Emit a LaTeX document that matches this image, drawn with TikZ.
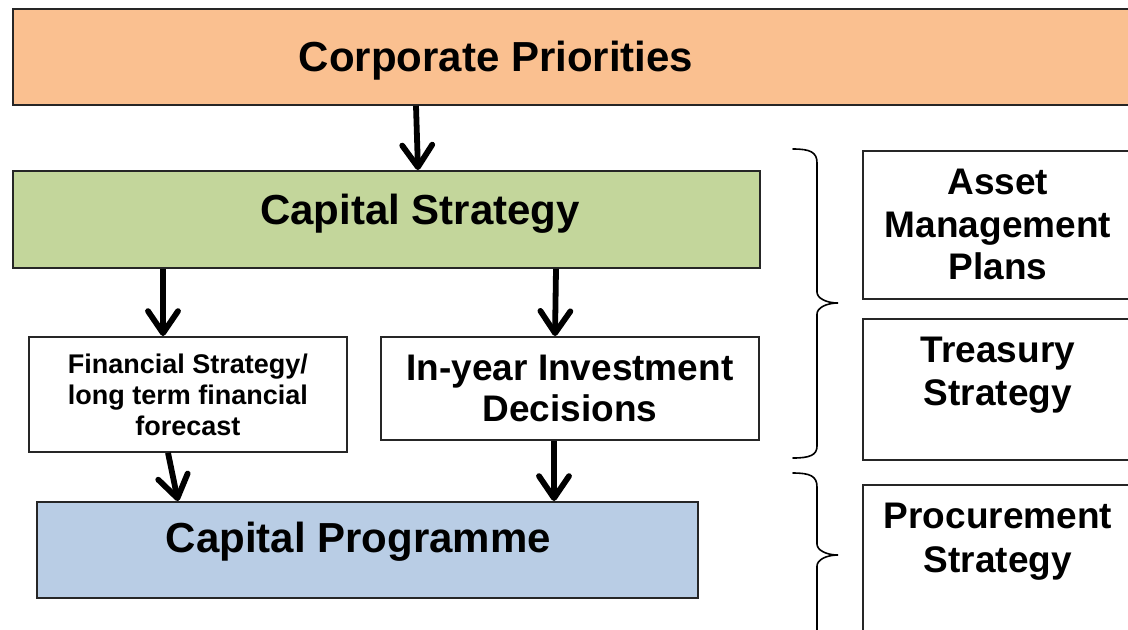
\documentclass[tikz,border=0pt]{standalone}
\usepackage{fontspec}
\setmainfont{Liberation Sans}
\usetikzlibrary{arrows.meta}
\definecolor{corporange}{HTML}{FAC090}
\definecolor{capgreen}{HTML}{C3D69B}
\definecolor{progblue}{HTML}{B9CDE5}

\begin{document}
\begin{tikzpicture}[x=0.5pt, y=-0.5pt,
    box/.style={draw=black!85, line width=0.9pt, anchor=north west, inner sep=0pt, align=center},
    arr/.style={line width=2.9pt, -{Straight Barb[length=11pt, width=15pt, line cap=round, line join=round]}},
    curly/.style={line width=0.8pt, line cap=round}]

      \useasboundingbox (0,0) rectangle (1128,629);
      \clip (0,0) rectangle (1128,629);

      \node[box, fill=corporange, minimum width=564pt, minimum height=48pt,
        label={[font=\fontsize{21pt}{24pt}\selectfont\bfseries, xshift=-40.5pt, yshift=-2pt]center:Corporate Priorities}] (corp) at (12,8) {};
      \node[box, fill=capgreen, minimum width=373.5pt, minimum height=48.5pt,
        label={[font=\fontsize{21pt}{24pt}\selectfont\bfseries, xshift=16.75pt, yshift=3pt]center:Capital Strategy}] (capstrat) at (12,170) {};
      \node[box, fill=progblue, minimum width=330.5pt, minimum height=48pt,
        label={[font=\fontsize{21pt}{24pt}\selectfont\bfseries, xshift=-4.5pt, yshift=4pt]center:Capital Programme}] (capprog) at (36,501) {};

      \node[box, fill=white, minimum width=159pt, minimum height=57.5pt,
        font=\fontsize{13.5pt}{15.5pt}\selectfont\bfseries] (financial) at (28,336) {Financial Strategy/\\long term financial\\forecast};
      \node[box, fill=white, minimum width=189pt, minimum height=51.5pt,
        font=\fontsize{18.5pt}{20.5pt}\selectfont\bfseries] (inyear) at (380,336) {In-year Investment\\Decisions};

      \node[box, fill=white, minimum width=135pt, minimum height=74pt,
        font=\fontsize{18.5pt}{21.25pt}\selectfont\bfseries] (asset) at (862,150) {Asset\\Management\\Plans};
      \node[box, fill=white, minimum width=135pt, minimum height=70.5pt,
        label={[align=center, font=\fontsize{18.5pt}{21.5pt}\selectfont\bfseries, yshift=7pt]center:Treasury\\Strategy}] (treasury) at (862,318) {};
      \node[box, fill=white, minimum width=135pt, minimum height=80pt,
        label={[align=center, font=\fontsize{18.5pt}{22pt}\selectfont\bfseries, yshift=11.5pt]center:Procurement\\Strategy}] (procure) at (862,484) {};

      \draw[arr] (416,0 |- corp.south) -- (418,0 |- capstrat.north);
      \draw[arr] (163,0 |- capstrat.south) -- (163,0 |- financial.north);
      \draw[arr] (556,0 |- capstrat.south) -- (555,0 |- inyear.north);
      \draw[arr] (168,0 |- financial.south) -- (178,0 |- capprog.north);
      \draw[arr] (554,0 |- inyear.south) -- (554,0 |- capprog.north);

      \draw[curly] (793,149) .. controls (810,149) and (817,152) .. (817,163) -- (817,292)
        .. controls (817,298) and (826,303) .. (838,303)
        .. controls (826,303) and (817,308) .. (817,314) -- (817,446)
        .. controls (817,455) and (810,458) .. (793,458);
      \draw[curly] (793,473) .. controls (810,473) and (817,476) .. (817,487) -- (817,544)
        .. controls (817,550) and (826,555) .. (838,555)
        .. controls (826,555) and (817,560) .. (817,566) -- (817,640);
    \end{tikzpicture}
\end{document}
